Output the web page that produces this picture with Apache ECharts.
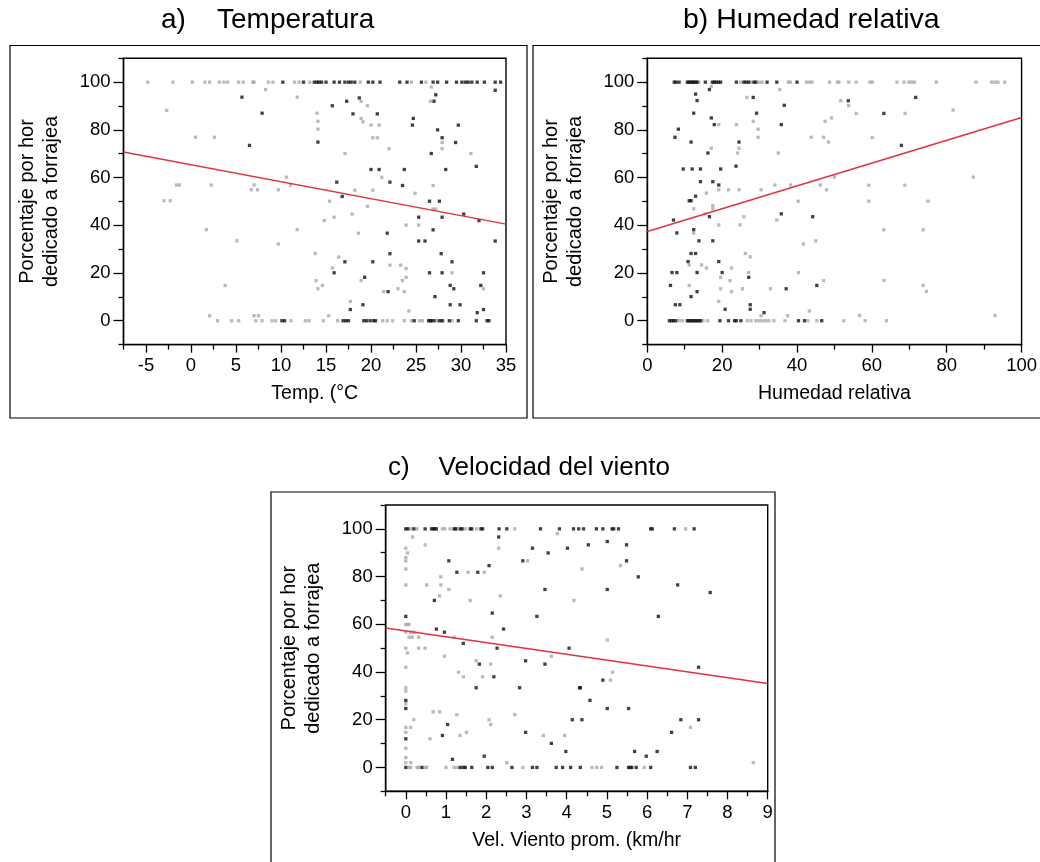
<!DOCTYPE html>
<html>
<head>
<meta charset="utf-8">
<script src="https://cdn.jsdelivr.net/npm/echarts@6/dist/echarts.min.js"></script>
<style>
  html, body { margin: 0; padding: 0; background: #fff; }
  #chart { width: 1040px; height: 862px; }
</style>
</head>
<body>
<div id="chart"></div>
<script>
// ---------- data: percentage of the hour spent foraging ----------
// a) temperature (°C)
const tempBlackTop = [10.2, 12.5, 13.7, 14.0, 14.2, 14.5, 15.0, 15.9, 16.5, 17.1, 17.5, 17.8, 18.2, 19.7, 20.2, 21.0, 23.2, 24.0, 25.6, 26.9, 27.4, 28.4, 29.5, 30.1, 30.5, 30.8, 31.2, 31.8, 32.6, 33.8, 34.4];
const tempGrayTop = [-4.8, -2.0, 0.14, 1.55, 2.07, 3.14, 3.66, 4.07, 5.29, 5.8, 6.88, 7.0, 8.6, 9.1, 11.5, 12.0, 13.2, 18.8, 24.5, 26.1];
const tempBlackZero = [10.1, 10.4, 16.9, 17.2, 17.5, 19.2, 19.5, 19.9, 20.3, 20.5, 24.8, 26.4, 26.6, 26.7, 27.0, 27.6, 27.9, 28.7, 29.7, 31.7, 32.9, 33.1];
const tempGrayZero = [2.96, 4.5, 5.3, 7.2, 7.9, 9.0, 9.4, 11.1, 12.7, 13.1, 14.7, 16.3, 21.3, 21.8, 22.4, 23.7, 24.5, 25.4, 25.7, 27.3, 28.0, 29.0];
const tempBlack = [
  [5.66, 93.7], [7.9, 87.0], [14.1, 74.9], [6.5, 73.5], [33.8, 96.6], [27.2, 94.7], [27.0, 92.0], [18.7, 93.4],
  [17.3, 92.0], [15.7, 90.1], [18.0, 86.7], [20.7, 86.7], [24.7, 84.8], [24.6, 82.0], [29.7, 82.0], [27.4, 80.0],
  [27.9, 76.7], [29.4, 74.7], [26.7, 70.1], [31.7, 64.7], [20.0, 63.4], [20.9, 63.4], [23.7, 63.4], [28.3, 63.4],
  [16.2, 58.1], [22.1, 58.1], [23.5, 56.7], [16.8, 52.1], [26.5, 50.1], [27.6, 50.1], [30.3, 44.7], [25.3, 43.4],
  [27.9, 43.4], [32.0, 42.0], [26.9, 38.1], [21.8, 36.7], [25.3, 33.4], [26.0, 33.4], [33.8, 33.4], [17.1, 24.7],
  [20.2, 24.7], [22.1, 28.1], [27.8, 28.1], [29.0, 24.7], [15.9, 20.1], [26.5, 20.1], [27.9, 20.1], [32.5, 20.1],
  [19.3, 18.2], [21.9, 12.2], [28.8, 14.8], [29.2, 13.4], [32.2, 14.8], [27.1, 10.1], [17.7, 4.7], [19.1, 6.7],
  [28.8, 6.7], [29.9, 6.7], [31.8, 3.4], [32.5, 4.7]
];
const tempGray = [
  [8.3, 96.9], [11.8, 93.7], [-2.7, 88.2], [14.0, 87.0], [14.1, 83.6], [14.1, 80.3], [0.5, 76.9], [2.6, 76.9],
  [10.6, 60.2], [-1.6, 56.9], [-1.3, 56.9], [2.25, 56.9], [7.0, 56.9], [6.7, 54.9], [7.4, 54.9], [9.7, 54.9],
  [11.05, 56.9], [-3.0, 50.3], [-2.3, 50.3], [1.7, 38.2], [11.8, 38.2], [5.1, 33.5], [9.7, 32.2], [13.8, 28.2],
  [13.9, 16.8], [14.1, 13.4], [3.8, 14.8], [26.7, 98.0], [26.6, 92.0], [18.9, 92.0], [19.6, 90.1], [18.9, 84.8],
  [19.1, 83.4], [20.0, 82.0], [20.9, 82.0], [20.2, 76.7], [20.7, 76.7], [22.0, 72.1], [17.1, 70.1], [27.9, 74.7],
  [27.9, 72.1], [31.1, 70.1], [21.2, 60.1], [18.2, 54.7], [20.2, 54.7], [26.9, 56.7], [24.9, 53.4], [15.4, 50.1],
  [19.6, 48.0], [26.9, 46.8], [27.2, 46.8], [15.9, 43.4], [17.9, 44.7], [14.8, 42.0], [23.9, 40.1], [25.3, 40.1],
  [18.6, 36.7], [16.4, 26.7], [22.1, 23.3], [23.3, 23.3], [23.9, 21.9], [15.7, 22.1], [29.0, 20.1], [14.6, 14.8],
  [18.9, 16.8], [23.5, 16.8], [23.9, 18.2], [21.4, 12.2], [23.0, 13.4], [23.7, 12.2], [32.5, 13.4], [17.7, 8.1],
  [15.3, 2.1], [24.2, 4.1], [2.07, 2.1], [7.0, 2.1], [7.5, 2.1]
];
const tempTrend = [[-7.5, 70.7], [35, 40.5]];

// b) relative humidity (%)
const humBlackTop = [7.2, 7.7, 8.5, 10.7, 11.1, 11.6, 12.0, 12.4, 12.9, 13.3, 15.5, 17.4, 17.9, 18.4, 19.0, 19.6, 23.8, 25.8, 26.4, 27.1, 28.5, 29.0, 32.0, 34.6, 40.0];
const humGrayTop = [13.8, 24.9, 27.7, 29.9, 30.7, 37.7, 38.2, 42.5, 43.3, 44.0, 48.7, 50.8, 51.2, 53.8, 55.8, 59.5, 60.1, 66.7, 68.6, 69.9, 70.6, 71.4, 77.2, 87.8, 92.0, 92.9, 93.7, 95.5];
const humBlackZero = [5.9, 6.5, 7.0, 7.6, 10.7, 11.1, 11.6, 12.0, 12.4, 12.9, 13.3, 13.8, 14.2, 19.4, 21.7, 23.3, 23.8, 25.0, 40.4, 42.0, 46.6];
const humGrayZero = [8.5, 9.4, 14.9, 16.1, 26.7, 27.7, 29.0, 29.9, 30.7, 31.6, 32.5, 33.8, 36.8, 42.9, 45.3, 52.5, 58.2, 63.9];
const humBlack = [
  [16.6, 96.9], [12.9, 95.0], [13.3, 92.3], [28.3, 93.6], [36.6, 90.3], [12.4, 87.0], [29.2, 87.0], [17.1, 85.0],
  [17.9, 82.2], [35.8, 82.2], [8.3, 80.3], [7.4, 76.9], [11.7, 74.9], [24.5, 74.9], [16.2, 70.3], [23.7, 64.8],
  [9.6, 63.6], [12.0, 63.6], [14.2, 63.6], [19.6, 63.6], [14.2, 58.3], [17.5, 58.3], [19.1, 56.9], [12.9, 52.2],
  [11.2, 50.3], [11.7, 50.3], [16.6, 43.6], [35.8, 44.8], [44.2, 43.6], [7.0, 42.2], [7.9, 36.8], [12.4, 38.2],
  [13.8, 33.5], [17.5, 33.5], [11.7, 28.2], [12.9, 28.2], [10.9, 24.8], [19.1, 24.8], [6.6, 20.2], [7.9, 20.2],
  [13.3, 20.2], [20.0, 20.2], [27.1, 18.2], [6.2, 14.8], [37.1, 13.4], [45.3, 14.8], [13.3, 12.2], [11.7, 10.1],
  [7.5, 6.7], [8.7, 6.7], [27.5, 6.7], [27.5, 4.8], [20.8, 4.8], [31.2, 3.4], [53.7, 92.2], [63.2, 86.9],
  [71.7, 93.6], [67.9, 73.5]
];
const humGray = [
  [17.1, 98.3], [35.4, 96.9], [26.6, 93.6], [19.1, 82.2], [23.8, 82.2], [28.3, 83.6], [29.6, 80.3], [29.6, 76.9],
  [17.1, 72.3], [24.5, 72.3], [24.1, 70.3], [35.0, 70.3], [19.1, 54.9], [21.7, 54.9], [24.5, 54.9], [30.4, 54.9],
  [34.1, 56.9], [38.3, 56.9], [46.2, 56.9], [47.9, 54.9], [49.2, 85.0], [47.5, 83.6], [43.8, 76.9], [47.1, 76.9],
  [48.4, 74.9], [50.0, 60.2], [15.8, 53.5], [12.4, 46.9], [17.5, 48.2], [17.5, 46.9], [15.4, 44.8], [25.8, 43.6],
  [34.6, 42.2], [19.1, 40.2], [24.8, 40.2], [12.4, 36.8], [41.7, 32.2], [45.0, 33.5], [26.2, 28.2], [27.5, 26.8],
  [11.2, 23.4], [14.5, 23.4], [15.8, 22.1], [22.5, 22.1], [27.1, 20.2], [40.4, 20.2], [19.6, 18.2], [22.1, 16.8],
  [47.1, 16.8], [11.2, 14.8], [19.6, 13.4], [22.5, 12.2], [25.4, 13.4], [32.9, 13.4], [19.1, 8.1], [30.4, 2.1],
  [37.5, 2.1], [43.3, 4.1], [40.3, 50.1], [51.7, 92.2], [53.8, 90.2], [55.8, 86.9], [68.9, 86.9], [81.7, 88.3],
  [60.1, 76.8], [87.1, 60.2], [59.2, 56.8], [68.8, 56.8], [59.2, 50.1], [75.0, 50.1], [63.2, 38.1], [73.7, 38.1],
  [63.2, 16.9], [73.7, 14.8], [74.6, 12.3], [56.7, 2.2], [92.9, 2.2]
];
const humTrend = [[0, 37.4], [100, 85.2]];

// c) mean wind speed (km/hr)
const windBlackTop = [0, 0.05, 0.2, 0.48, 0.64, 0.68, 0.72, 0.76, 1.2, 1.24, 1.36, 1.4, 1.6, 1.64, 1.87, 1.91, 2.32, 2.51, 3.35, 3.82, 4.17, 4.30, 4.42, 4.74, 4.90, 5.13, 5.17, 5.29, 6.09, 6.13, 6.68, 7.17];
const windGrayTop = [0.12, 0.28, 0.91, 0.97, 1.1, 1.29, 1.48, 1.76, 2.71, 6.96];
const windBlackZero = [0, 0.4, 1.35, 1.43, 1.48, 1.64, 2.04, 2.15, 2.64, 3.15, 3.26, 3.74, 3.9, 4.1, 4.34, 5.25, 5.54, 5.58, 5.62, 5.73, 6.09, 7.08, 7.2];
const windGrayZero = [0.08, 0.12, 0.28, 0.32, 0.48, 0.52, 1.0, 1.2, 1.27, 2.91, 4.63, 4.75, 4.87, 5.93];
const windBlack = [
  [2.31, 96.6], [1.07, 86.6], [1.27, 81.8], [1.79, 81.8], [2.07, 84.6], [0.71, 70.0], [2.15, 64.7], [3.15, 91.9],
  [3.54, 89.9], [2.91, 86.6], [3.46, 74.6], [4.02, 91.9], [3.26, 63.3], [0, 63.3], [0.76, 58.0], [0.96, 56.7],
  [2.43, 58.0], [1.43, 52.0], [2.27, 50.0], [4.06, 50.0], [1.83, 43.3], [2.98, 44.7], [3.46, 43.3], [2.19, 38.0],
  [1.75, 33.4], [2.83, 33.4], [4.32, 33.4], [0, 28.1], [0, 24.7], [1.04, 18.0], [0, 12.0], [0.91, 13.4],
  [2.98, 14.7], [3.62, 10.1], [3.98, 6.7], [1.16, 3.4], [1.95, 4.7], [4.54, 93.3], [5.01, 94.7], [5.49, 93.3],
  [5.49, 86.6], [5.78, 79.9], [6.76, 76.5], [7.57, 73.3], [5.01, 74.6], [6.28, 63.3], [7.28, 42.0], [4.90, 36.6],
  [4.34, 33.4], [4.58, 28.1], [5.01, 24.7], [5.54, 24.7], [4.14, 20.0], [4.38, 20.0], [6.84, 20.0], [7.28, 20.0],
  [6.61, 14.7], [5.69, 6.7], [5.98, 4.7], [6.25, 6.7]
];
const windGray = [
  [0.17, 96.6], [0.48, 93.3], [0, 91.9], [0.04, 89.9], [0, 88.0], [0, 86.6], [0, 83.2], [0, 76.5],
  [0.52, 76.5], [0.87, 79.9], [0.87, 76.5], [1.07, 74.6], [0.84, 71.9], [1.55, 81.8], [1.95, 81.8], [2.31, 91.9],
  [1.6, 70.0], [2.35, 71.9], [3.77, 98.0], [3.03, 86.6], [4.18, 70.0], [0, 59.9], [0.04, 59.9], [0.08, 59.9],
  [0, 56.7], [0.12, 56.7], [0.2, 56.7], [0.08, 54.6], [0.16, 54.6], [0.32, 54.6], [1.2, 54.6], [2.15, 54.6],
  [0, 50.0], [0.32, 50.0], [0.48, 50.0], [0.04, 48.0], [0.96, 46.6], [3.62, 46.6], [0, 42.0], [1.75, 44.7],
  [2.11, 43.3], [1.31, 39.9], [1.43, 38.0], [1.91, 38.0], [0, 33.4], [0, 32.0], [0, 26.7], [0.68, 23.3],
  [0.84, 23.3], [0.2, 20.0], [1.27, 22.1], [2.07, 20.0], [2.11, 18.0], [2.71, 22.1], [0, 16.8], [0.12, 16.8],
  [0, 14.7], [0.6, 12.0], [1.35, 13.4], [1.51, 14.7], [3.42, 13.4], [3.95, 13.4], [0, 8.0], [2.51, 2.0],
  [0, 4.1], [0, 2.0], [0.12, 2.0], [5.34, 84.6], [4.38, 83.2], [5.01, 53.4], [5.14, 39.9], [5.09, 36.6],
  [7.08, 16.8], [8.64, 2.0]
];
const windTrend = [[-0.5, 58.4], [9, 35.2]];

// ---------- axis ticks ----------
const yLabels = [0, 20, 40, 60, 80, 100];
const yMinorTicks = [-10, 10, 30, 50, 70, 90, 110];
const tempLabels = [-5, 0, 5, 10, 15, 20, 25, 30, 35];
const tempMinor = [-7.5, -2.5, 2.5, 7.5, 12.5, 17.5, 22.5, 27.5, 32.5];
const humLabels = [0, 20, 40, 60, 80, 100];
const humMinor = [10, 30, 50, 70, 90];
const windLabels = [0, 1, 2, 3, 4, 5, 6, 7, 8, 9];
const windMinor = [-0.5, 0.5, 1.5, 2.5, 3.5, 4.5, 5.5, 6.5, 7.5, 8.5];

const FONT = "'Liberation Sans', Arial, sans-serif";
const GRAY = '#a9a9a9';
const BLACK = '#111111';
const RED = '#e0343f';

function withRow(xs, y) { return xs.map(x => [x, y]); }

const panels = [
  { grid: { left: 123.5, top: 58.3, width: 382.5, height: 286.3 },
    xMin: -7.5, xMax: 35, xName: 'Temp. (°C', xLabels: tempLabels, xMinor: tempMinor,
    black: tempBlack.concat(withRow(tempBlackTop, 100), withRow(tempBlackZero, 0)),
    gray: tempGray.concat(withRow(tempGrayTop, 100), withRow(tempGrayZero, 0)),
    trend: tempTrend },
  { grid: { left: 647.3, top: 58.3, width: 382.7, height: 286.3 },
    xMin: 0, xMax: 100, xName: 'Humedad relativa', xLabels: humLabels, xMinor: humMinor,
    black: humBlack.concat(withRow(humBlackTop, 100), withRow(humBlackZero, 0)),
    gray: humGray.concat(withRow(humGrayTop, 100), withRow(humGrayZero, 0)),
    trend: humTrend },
  { grid: { left: 385.7, top: 505, width: 382, height: 286.3 },
    xMin: -0.5, xMax: 9, xName: 'Vel. Viento prom. (km/hr', xLabels: windLabels, xMinor: windMinor,
    black: windBlack.concat(withRow(windBlackTop, 100), withRow(windBlackZero, 0)),
    gray: windGray.concat(withRow(windGrayTop, 100), withRow(windGrayZero, 0)),
    trend: windTrend }
];

const tickStyle = { color: '#000', width: 1.3 };
const grid = [], xAxis = [], yAxis = [], series = [];
panels.forEach((p, i) => {
  grid.push(Object.assign({ show: true, borderColor: '#000', borderWidth: 1.4, backgroundColor: '#fff' }, p.grid));
  const xBase = {
    type: 'value', gridIndex: i, min: p.xMin, max: p.xMax, position: 'bottom',
    splitLine: { show: false }
  };
  // major ticks + labels
  xAxis.push(Object.assign({}, xBase, {
    name: p.xName, nameLocation: 'middle', nameGap: 39,
    nameTextStyle: { fontFamily: FONT, fontSize: 19.5, color: '#000' },
    axisLine: { show: true, onZero: false, lineStyle: { color: '#000', width: 1.4 } },
    axisTick: { show: true, customValues: p.xLabels, length: 8, lineStyle: tickStyle },
    axisLabel: { customValues: p.xLabels, fontFamily: FONT, fontSize: 18.5, color: '#000', margin: 12 }
  }));
  // minor ticks
  xAxis.push(Object.assign({}, xBase, {
    axisLine: { show: false, onZero: false },
    axisTick: { show: true, customValues: p.xMinor, length: 5, lineStyle: tickStyle },
    axisLabel: { show: false }
  }));
  const yBase = { type: 'value', gridIndex: i, min: -10, max: 110, position: 'left', splitLine: { show: false } };
  yAxis.push(Object.assign({}, yBase, {
    name: 'Porcentaje por hor\ndedicado a forrajea', nameLocation: 'middle', nameGap: 60, nameRotate: 90,
    nameTextStyle: { fontFamily: FONT, fontSize: 20, lineHeight: 24, color: '#000' },
    axisLine: { show: true, onZero: false, lineStyle: { color: '#000', width: 1.4 } },
    axisTick: { show: true, customValues: yLabels, length: 10, lineStyle: tickStyle },
    axisLabel: { customValues: yLabels, fontFamily: FONT, fontSize: 18.5, color: '#000', margin: 13 }
  }));
  yAxis.push(Object.assign({}, yBase, {
    axisLine: { show: false, onZero: false },
    axisTick: { show: true, customValues: yMinorTicks, length: 5, lineStyle: tickStyle },
    axisLabel: { show: false }
  }));
  series.push({
    type: 'scatter', xAxisIndex: 2 * i, yAxisIndex: 2 * i, data: p.gray,
    symbol: 'rect', symbolSize: 3.3, itemStyle: { color: GRAY }, silent: true, z: 2
  });
  series.push({
    type: 'scatter', xAxisIndex: 2 * i, yAxisIndex: 2 * i, data: p.black,
    symbol: 'rect', symbolSize: 3.3, itemStyle: { color: BLACK }, silent: true, z: 3
  });
  series.push({
    type: 'line', xAxisIndex: 2 * i, yAxisIndex: 2 * i, data: p.trend,
    showSymbol: false, lineStyle: { color: RED, width: 1.5 }, silent: true, z: 4
  });
});

const chart = echarts.init(document.getElementById('chart'), null, { renderer: 'canvas' });
chart.setOption({
  animation: false,
  backgroundColor: '#fff',
  grid, xAxis, yAxis, series,
  graphic: [
    // panel frames
    { type: 'rect', shape: { x: 10, y: 45.5, width: 517, height: 372.5 }, style: { fill: null, stroke: '#000', lineWidth: 1.2 }, z: -1 },
    { type: 'rect', shape: { x: 533, y: 45.5, width: 520, height: 372.5 }, style: { fill: null, stroke: '#000', lineWidth: 1.2 }, z: -1 },
    { type: 'rect', shape: { x: 271, y: 492, width: 504, height: 380 }, style: { fill: null, stroke: '#000', lineWidth: 1.2 }, z: -1 },
    // panel titles
    { type: 'text', left: 161, top: 6, style: { text: 'a)    Temperatura', font: "28px 'Liberation Sans', Arial, sans-serif", fill: '#000' } },
    { type: 'text', left: 683, top: 6, style: { text: 'b) Humedad relativa', font: "28.5px 'Liberation Sans', Arial, sans-serif", fill: '#000' } },
    { type: 'text', left: 388, top: 455, style: { text: 'c)    Velocidad del viento', font: "26px 'Liberation Sans', Arial, sans-serif", fill: '#000' } }
  ]
});
</script>
</body>
</html>
